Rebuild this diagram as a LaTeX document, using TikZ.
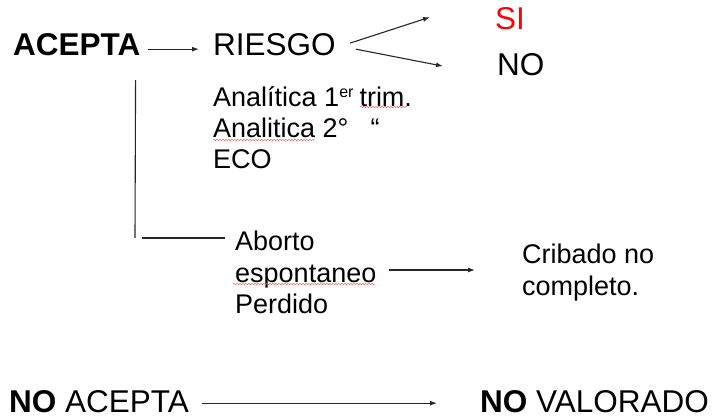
\documentclass[tikz,border=0pt]{standalone}
\usepackage{fontspec}
\setmainfont{Liberation Sans}
\usetikzlibrary{arrows.meta,decorations.pathmorphing}
\def\bigtext{\fontsize{31.5}{37}\selectfont}
\def\smalltext{\fontsize{27}{31}\selectfont}
\def\supsmall#1{\raisebox{9pt}{\fontsize{16}{16}\selectfont #1}}
\tikzset{
	big/.style={font=\bigtext, inner sep=0pt, anchor=base west},
	small/.style={font=\smalltext, inner sep=0pt, align=left, anchor=north west},
	line/.style={draw=black!85, line width=1.1pt},
	arrow/.style={line, -{Latex[length=7pt,width=5pt]}},
	spellmark/.style={draw=red!60, line width=0.5pt, decorate, decoration={snake, amplitude=0.7pt, segment length=3pt}}
}
\begin{document}
\begin{tikzpicture}[x=1pt,y=-1pt]
		\useasboundingbox (0,0) rectangle (712,418);
		% first row
			\node [big] (acepta) at (13,55) {\textbf{ACEPTA}};
			\node [big] (riesgo) at (213,55) {RIESGO};
			\node [big, text=red] (si) at (495,29) {SI};
			\node [big] (no) at (497,75) {NO};
			\draw [arrow] ([shift={(7pt,-5pt)}]acepta.east) -- ([shift={(-14pt,-5pt)}]riesgo.west);
			\draw [arrow] ([shift={(14pt,1pt)}]riesgo.east) -- ([shift={(-65pt,1pt)}]si.west);
			\draw [arrow] ([shift={(20pt,-5pt)}]riesgo.east) -- ([shift={(-54pt,-2pt)}]no.west);
		% tests
			\node [small] (analitica) at (213,86) {Anal\'{\i}tica 1\supsmall{er}\hspace{6pt}trim.\\Analitica 2\textdegree\hspace{22pt}\textquotedblleft\\ECO};
		% losses
			\coordinate (split) at (135,238);
			\draw [line] ([shift={(-5pt,-25pt)}]acepta.base east) -- (split);
			\node [small, font=\fontsize{27}{31.5}\selectfont] (aborto) at (235,231) {Aborto\\espontaneo\\Perdido};
			\node [small, font=\fontsize{27}{32}\selectfont] (cribado) at (522,244) {Cribado no\\completo.};
			\draw [line] ([xshift=7pt]split) -- ([xshift=-10pt]split -| aborto.west);
			\draw [arrow] ([xshift=12pt]aborto.east |- 0,270) -- ([xshift=-47pt]cribado.west |- 0,270);
		% last row
			\node [big] (noacepta) at (9,412) {\textbf{NO} ACEPTA};
			\node [big] (novalorado) at (480,412) {\textbf{NO} VALORADO};
			\draw [arrow] ([shift={(13pt,-2pt)}]noacepta.east) -- ([shift={(-43pt,-2pt)}]novalorado.west);
		% spelling marks
			\draw [spellmark] (360,107) -- (407,107);
			\draw [spellmark] (213,140) -- (315,140);
			\draw [spellmark] (233,284) -- (375,284);
	\end{tikzpicture}
\end{document}
